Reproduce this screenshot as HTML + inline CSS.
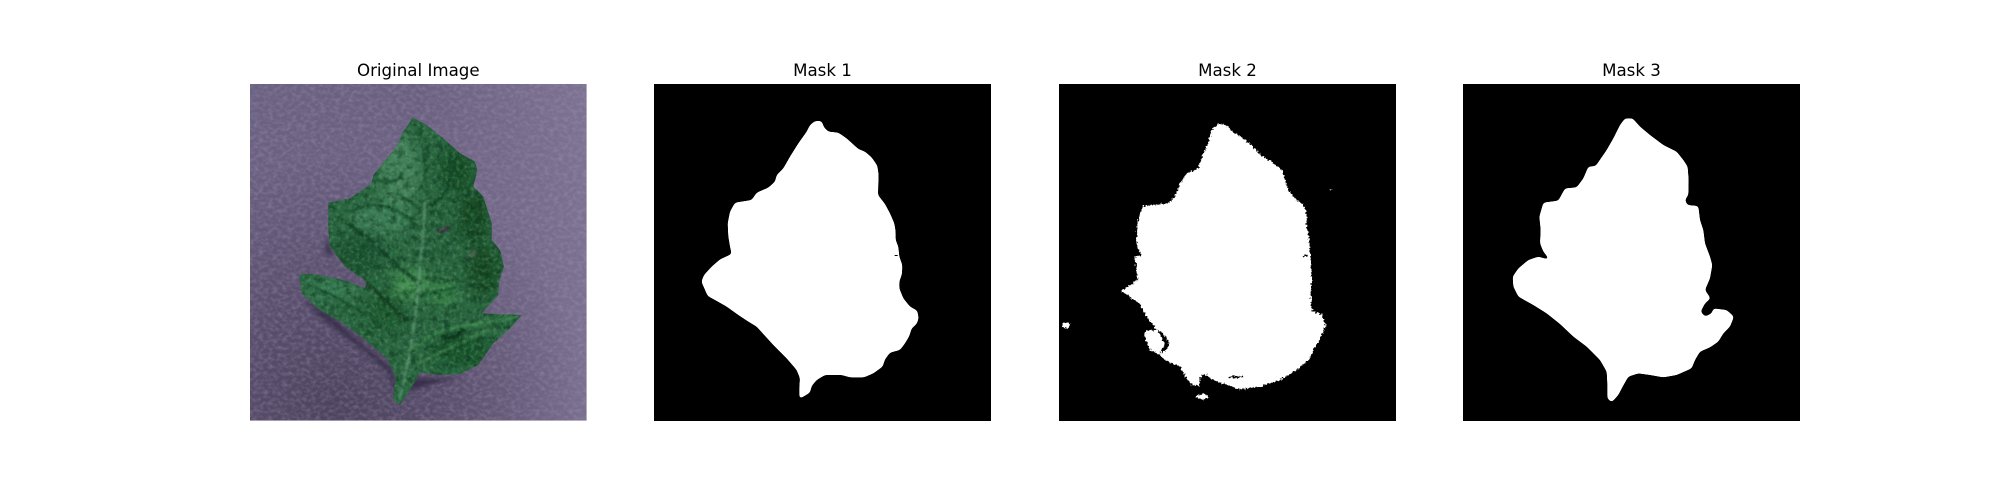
<!DOCTYPE html>
<html lang="en">
<head>
<meta charset="utf-8">
<title>Leaf segmentation masks</title>
<style>
html,body{margin:0;padding:0;background:#fff;width:2000px;height:500px;overflow:hidden}
svg{display:block}
text{font-family:"DejaVu Sans","Liberation Sans",sans-serif;font-size:16.67px;fill:#000;text-anchor:middle}
</style>
</head>
<body>
<svg width="2000" height="500" viewBox="0 0 2000 500" xmlns="http://www.w3.org/2000/svg">
<defs>
  <linearGradient id="bgGrad" x1="0" y1="0" x2="1" y2="1">
    <stop offset="0" stop-color="#6b6182"/>
    <stop offset="0.5" stop-color="#6a5f7f"/>
    <stop offset="1" stop-color="#64597a"/>
  </linearGradient>
  <linearGradient id="bgLight" x1="0" y1="0" x2="1" y2="0">
    <stop offset="0.5" stop-color="#948aa8" stop-opacity="0"/>
    <stop offset="1" stop-color="#948aa8" stop-opacity="0.45"/>
  </linearGradient>
  <radialGradient id="bgDark" cx="0.25" cy="0.95" r="0.75">
    <stop offset="0" stop-color="#3f3750" stop-opacity="0.7"/>
    <stop offset="1" stop-color="#3f3750" stop-opacity="0"/>
  </radialGradient>
  <filter id="grain" filterUnits="userSpaceOnUse" x="60" y="102" width="1010" height="1010" color-interpolation-filters="sRGB">
    <feTurbulence type="fractalNoise" baseFrequency="0.07 0.09" numOctaves="3" seed="7"/>
    <feColorMatrix type="matrix" values="0 0 0 0 0.7  0 0 0 0 0.65  0 0 0 0 0.76  1.6 0 0 0 -0.6"/>
  </filter>
  <filter id="leafGrain" filterUnits="userSpaceOnUse" x="60" y="102" width="1010" height="1010" color-interpolation-filters="sRGB">
    <feTurbulence type="fractalNoise" baseFrequency="0.09" numOctaves="3" seed="3"/>
    <feColorMatrix type="matrix" values="0 0 0 0 0.5  0 0 0 0 0.72  0 0 0 0 0.56  2 0 0 0 -0.9"/>
  </filter>
  <filter id="leafDarkGrain" filterUnits="userSpaceOnUse" x="60" y="102" width="1010" height="1010" color-interpolation-filters="sRGB">
    <feTurbulence type="fractalNoise" baseFrequency="0.05" numOctaves="3" seed="11"/>
    <feColorMatrix type="matrix" values="0 0 0 0 0.03  0 0 0 0 0.2  0 0 0 0 0.1  2.6 0 0 0 -1.1"/>
  </filter>
  <filter id="soft" x="-30%" y="-30%" width="160%" height="160%"><feGaussianBlur stdDeviation="20"/></filter>
  <filter id="softVein" x="-20%" y="-20%" width="140%" height="140%"><feGaussianBlur stdDeviation="3"/></filter>
  <filter id="shadow" x="-20%" y="-20%" width="140%" height="140%"><feGaussianBlur stdDeviation="7"/></filter>
  <filter id="smoothMask" filterUnits="userSpaceOnUse" x="40" y="100" width="1030" height="1015" color-interpolation-filters="sRGB">
    <feGaussianBlur stdDeviation="4.5"/>
    <feComponentTransfer><feFuncA type="linear" slope="12" intercept="-5.5"/></feComponentTransfer>
  </filter>
  <filter id="roughMask" filterUnits="userSpaceOnUse" x="57" y="102" width="1011" height="1010" color-interpolation-filters="sRGB">
    <feTurbulence type="fractalNoise" baseFrequency="0.16" numOctaves="2" seed="5" result="n"/>
    <feDisplacementMap in="SourceGraphic" in2="n" scale="14" xChannelSelector="R" yChannelSelector="G"/>
  </filter>
  <clipPath id="imgClip"><rect x="60" y="102" width="1010" height="1010"/></clipPath>
  <clipPath id="leafClip"><polygon points="548,203 590,225 640,265 690,310 735,335 742,360 730,410 760,440 785,520 785,570 810,600 822,650 808,690 805,735 755,790 875,795 840,835 790,880 745,945 690,972 630,975 570,968 540,1020 510,1065 490,1050 497,980 470,925 400,865 340,820 270,780 215,730 208,672 250,672 340,690 405,715 410,695 345,650 300,590 295,540 295,458 360,445 425,400 430,375 500,290 520,245"/></clipPath>
</defs>

<text x="418.3" y="76">Original Image</text>
<text x="822.5" y="76">Mask 1</text>
<text x="1227.5" y="76">Mask 2</text>
<text x="1631.5" y="76">Mask 3</text>

<g transform="translate(230,50) scale(0.33333)">
  <g clip-path="url(#imgClip)">
    <rect x="60" y="102" width="1010" height="1010" fill="url(#bgGrad)"/>
    <rect x="60" y="102" width="1010" height="1010" fill="url(#bgLight)"/>
    <rect x="60" y="102" width="1010" height="1010" fill="url(#bgDark)"/>
    <rect x="60" y="102" width="1010" height="1010" filter="url(#grain)" opacity="0.4"/>
    <g filter="url(#shadow)" fill="#2d2740" opacity="0.8">
      <polygon points="215,745 300,795 400,885 480,950 500,1000 560,985 700,985 640,995 500,1030 470,960 380,885 270,800"/>
      <polygon points="290,560 310,620 285,610"/>
    </g>
    <polygon points="548,203 590,225 640,265 690,310 735,335 742,360 730,410 760,440 785,520 785,570 810,600 822,650 808,690 805,735 755,790 875,795 840,835 790,880 745,945 690,972 630,975 570,968 540,1020 510,1065 490,1050 497,980 470,925 400,865 340,820 270,780 215,730 208,672 250,672 340,690 405,715 410,695 345,650 300,590 295,540 295,458 360,445 425,400 430,375 500,290 520,245" fill="#2a6640"/>
    <g clip-path="url(#leafClip)">
      <g filter="url(#soft)">
        <ellipse cx="510" cy="370" rx="60" ry="120" fill="#44835c"/>
        <ellipse cx="450" cy="510" rx="100" ry="55" fill="#3a7c55"/>
        <ellipse cx="300" cy="720" rx="80" ry="35" fill="#387a52"/>
        <ellipse cx="680" cy="360" rx="50" ry="70" fill="#174f28"/>
        <ellipse cx="730" cy="500" rx="45" ry="80" fill="#124a20"/>
        <ellipse cx="760" cy="660" rx="45" ry="80" fill="#134a22"/>
        <ellipse cx="690" cy="900" rx="90" ry="45" fill="#185229"/>
        <ellipse cx="540" cy="700" rx="50" ry="45" fill="#4a9555"/>
        <ellipse cx="640" cy="730" rx="45" ry="35" fill="#3a8548"/>
        <ellipse cx="390" cy="610" rx="70" ry="70" fill="#1d5531"/>
        <ellipse cx="470" cy="780" rx="50" ry="60" fill="#1d5a2f"/>
      </g>
      <g fill="none" stroke-linecap="round" filter="url(#softVein)">
        <path d="M585,440 C582,530 572,640 560,760 C550,860 530,960 508,1050" stroke="#5f9776" stroke-width="6"/>
        <path d="M555,520 C500,470 440,450 370,480" stroke="#1a5430" stroke-width="9"/>
        <path d="M590,470 C650,450 680,380 660,320" stroke="#164c2a" stroke-width="10"/>
        <path d="M500,430 C540,450 560,470 575,490" stroke="#1a5430" stroke-width="8"/>
        <path d="M515,370 C500,400 470,400 440,390" stroke="#1a5430" stroke-width="8"/>
        <path d="M575,290 C590,340 590,400 585,440" stroke="#1a5430" stroke-width="7"/>
        <path d="M555,690 C490,640 430,570 350,520" stroke="#174a2b" stroke-width="12"/>
        <path d="M530,810 C470,760 440,720 410,700" stroke="#123f24" stroke-width="12"/>
        <path d="M500,860 C430,800 340,750 250,710" stroke="#1a5430" stroke-width="8"/>
        <path d="M545,900 C620,820 720,830 860,800" stroke="#3f8a50" stroke-width="8"/>
        <path d="M570,940 C640,900 720,870 790,830" stroke="#3d7f48" stroke-width="8"/>
        <path d="M640,860 C660,870 680,860 700,840" stroke="#103a1d" stroke-width="16"/>
        <path d="M580,620 C640,600 700,560 740,500" stroke="#1f5833" stroke-width="8"/>
        <path d="M570,740 C640,720 730,700 790,690" stroke="#1f5833" stroke-width="8"/>
        <path d="M625,545 L655,535" stroke="#3a3840" stroke-width="14"/>
        <path d="M715,620 L735,605" stroke="#4d5a50" stroke-width="10"/>
      </g>
      <rect x="60" y="102" width="1010" height="1010" filter="url(#leafDarkGrain)" opacity="0.55"/>
      <rect x="60" y="102" width="1010" height="1010" filter="url(#leafGrain)" opacity="0.4"/>
    </g>
  </g>
</g>

<rect x="654" y="84" width="337" height="337" fill="#000"/>
<g transform="translate(640,50) scale(0.33333)">
  <polygon filter="url(#smoothMask)" fill="#fff" points="525,213 545,213 552,232 565,245 595,248 620,265 655,297 675,305 695,322 712,347 716,375 715,400 714,435 735,462 750,490 763,520 767,545 767,570 775,590 778,620 787,645 786,672 778,695 778,715 790,745 810,770 832,782 836,805 830,822 815,835 808,858 795,880 780,900 750,908 735,928 728,950 700,970 672,982 630,982 605,975 555,975 530,990 515,1008 510,1028 490,1040 478,1047 478,1010 480,985 470,960 440,925 400,885 350,830 325,815 295,795 260,770 225,750 203,738 193,715 184,695 192,675 215,650 240,628 275,612 270,590 265,560 263,520 270,485 285,458 335,450 350,428 385,413 405,395 410,375 430,355 450,320 475,280 500,245 510,225"/>
  <rect x="764" y="615" width="9" height="3" fill="#000"/>
</g>

<rect x="1059" y="84" width="337" height="337" fill="#000"/>
<g transform="translate(1040,50) scale(0.33333)">
  <g filter="url(#roughMask)">
    <polygon fill="#fff" points="545,220 560,228 585,250 610,265 640,290 665,318 695,335 725,360 735,390 745,420 770,450 790,465 800,490 800,530 808,575 812,620 815,680 812,730 815,780 845,795 857,830 840,865 820,900 810,925 770,960 720,990 660,1010 600,1018 560,1005 520,990 490,970 480,985 478,1008 455,1005 430,970 420,950 375,930 360,915 330,900 313,860 318,842 350,840 335,820 310,785 300,762 262,735 243,722 270,705 293,690 288,650 285,620 305,615 290,590 290,530 300,490 310,468 385,460 405,440 420,400 440,370 475,355 490,310 505,280 515,240 530,225"/>
    <g fill="#000">
      <polygon points="352,840 368,848 382,870 388,885 378,900 360,912 374,880"/>
      <rect x="568" y="979" width="42" height="4"/>
      <rect x="788" y="616" width="14" height="5"/>
      <rect x="797" y="482" width="6" height="8"/>
    </g>
    <g fill="#fff">
      <ellipse cx="79" cy="826" rx="12" ry="8"/>
      <ellipse cx="487" cy="1040" rx="18" ry="8"/>
      <rect x="870" y="417" width="5" height="5"/>
    </g>
  </g>
</g>

<rect x="1463" y="84" width="337" height="337" fill="#000"/>
<g transform="translate(1450,50) scale(0.33333)">
  <polygon filter="url(#smoothMask)" fill="#fff" points="525,205 548,205 570,230 600,255 640,285 680,305 700,330 713,350 716,390 715,435 705,450 712,465 745,468 750,510 760,540 765,580 780,620 787,645 780,685 765,720 782,745 765,760 752,785 765,800 785,790 790,775 830,780 852,800 840,830 820,850 805,875 780,892 750,905 735,930 725,955 680,975 640,982 600,975 565,970 535,980 518,1010 505,1035 485,1057 472,1045 472,1000 470,965 450,930 410,890 370,860 330,822 290,790 250,765 205,740 190,710 188,680 205,655 235,630 265,620 300,630 280,605 270,580 272,540 268,500 280,458 325,452 345,415 380,412 400,385 415,350 437,348 470,300 490,265 510,225"/>
</g>
</svg>
</body>
</html>
